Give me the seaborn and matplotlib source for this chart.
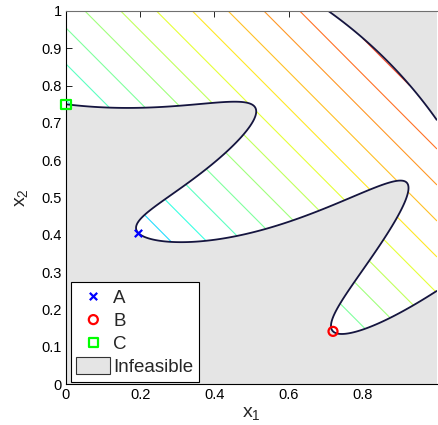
import matplotlib
matplotlib.use("Agg")
import matplotlib.pyplot as plt
from matplotlib.patches import Patch
import numpy as np
import seaborn as sns

# toy problem: minimise f = x1 + x2 subject to c1 <= 0 and c2 <= 0
point_names = ["A", "B", "C"]
point_x1 = [0.1954, 0.7197, 0.0]
point_x2 = [0.4044, 0.1411, 0.75]
point_colors = ["#0000ff", "#ff0000", "#00ff00"]
point_markers = ["x", "o", "s"]

f_levels = [0.665, 0.7615, 0.858, 0.9545, 1.051, 1.1475, 1.244,
            1.3405, 1.437, 1.5335, 1.63, 1.7265]
x_ticks = [0, 0.2, 0.4, 0.6, 0.8]
y_ticks = [0, 0.1, 0.2, 0.3, 0.4, 0.5, 0.6, 0.7, 0.8, 0.9, 1]


def objective(a, b):
    return a + b


def con1(a, b):
    return 1.5 - a - 2 * b - 0.5 * np.sin(2 * np.pi * (a ** 2 - 2 * b))


def con2(a, b):
    return a ** 2 + b ** 2 - 1.5


sns.set_theme(style="white")
plt.rcParams["font.family"] = ["Liberation Sans", "DejaVu Sans"]
plt.rcParams["mathtext.default"] = "regular"

g = np.linspace(0, 1, 801)
X1, X2 = np.meshgrid(g, g)
F = objective(X1, X2)
C = np.maximum(con1(X1, X2), con2(X1, X2))
F_feas = np.ma.masked_where(C > 0, F)

fig = plt.figure(figsize=(4.38, 4.25), dpi=100)
ax = fig.add_axes([66 / 438, 41 / 425, 371 / 438, 373 / 425])

ax.contourf(X1, X2, C, levels=[0, C.max() + 1], colors=["#e5e5e5"])
ax.contour(X1, X2, F_feas, levels=f_levels, cmap="jet", vmin=0, vmax=2,
           linewidths=0.8, alpha=0.85)
ax.contour(X1, X2, C, levels=[0], colors=["#15153f"], linewidths=1.3)

for name, px, py, col, mk in zip(point_names, point_x1, point_x2,
                                 point_colors, point_markers):
    if mk == "x":
        sns.scatterplot(x=[px], y=[py], marker=mk, color=col, s=28,
                        linewidth=1.6, label=name, ax=ax, zorder=5,
                        clip_on=False)
    else:
        sns.scatterplot(x=[px], y=[py], marker=mk, facecolor="none",
                        edgecolor=col, s=42, linewidth=1.6, label=name,
                        ax=ax, zorder=5, clip_on=False)

ax.set_xlim(0, 1)
ax.set_ylim(0, 1)
ax.set_xticks(x_ticks)
ax.set_xticklabels(["0", "0.2", "0.4", "0.6", "0.8"])
ax.set_yticks(y_ticks)
ax.set_yticklabels(["0", "0.1", "0.2", "0.3", "0.4", "0.5", "0.6", "0.7",
                    "0.8", "0.9", "1"])
ax.tick_params(direction="in", length=4, width=0.6, labelsize=10.5,
               top=True, right=False, bottom=True, left=True, colors="black",
               pad=3)
for sp in ax.spines.values():
    sp.set_color("black")
    sp.set_linewidth(0.8)
ax.spines["top"].set_color("#707070")
ax.spines["right"].set_visible(False)

ax.set_xlabel("x$_1$", fontsize=14, labelpad=2)
ax.set_ylabel("x$_2$", fontsize=14, labelpad=8)

handles, labels = ax.get_legend_handles_labels()
handles.append(Patch(facecolor="#e5e5e5", edgecolor="#333333", linewidth=0.8))
labels.append("Infeasible")
leg = ax.legend(handles, labels, loc="lower left",
                bbox_to_anchor=(0.013, 0.006), borderaxespad=0,
                fontsize=13.5, frameon=True, fancybox=False, framealpha=1,
                edgecolor="black", labelspacing=0.23, handlelength=1.8,
                handleheight=1.0, handletextpad=0.16, borderpad=0.3)
leg.get_frame().set_linewidth(0.8)

fig.savefig("out.png", dpi=100)
